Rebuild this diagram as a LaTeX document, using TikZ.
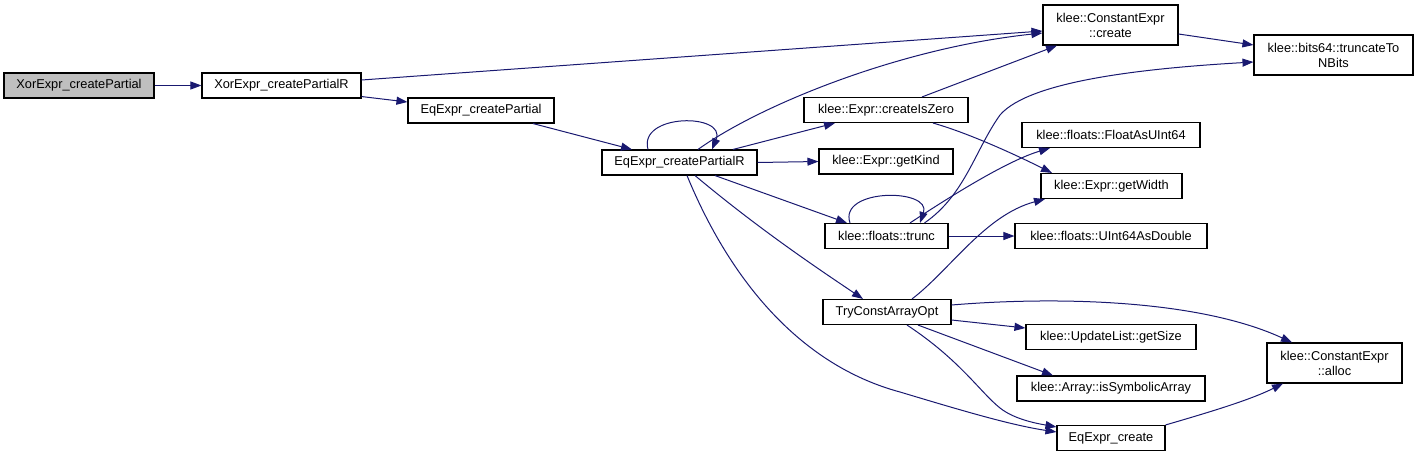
\documentclass[tikz,border=0pt]{standalone}
\usepackage{fontspec}
\setmainfont{Liberation Sans}
\usetikzlibrary{arrows.meta,calc}
\definecolor{edgec}{HTML}{191970}
\definecolor{grayfill}{HTML}{BFBFBF}
\tikzset{
  fn/.style={draw=black, line width=1.1pt, fill=white, inner sep=0pt, align=center,
    font=\fontsize{12.8}{15}\selectfont, minimum height=25pt},
  fn2/.style={fn, minimum height=40pt},
  call/.style={draw=edgec, line width=1pt, -{Triangle[length=11pt,width=8pt]}}
}
\begin{document}
\begin{tikzpicture}[x=1pt,y=-1pt]
\useasboundingbox (0,0) rectangle (1419,458);
% nodes
\node[fn, fill=grayfill, minimum width=150pt] (n1) at (79,85.5) {XorExpr\_createPartial};
\node[fn, minimum width=159pt] (n2) at (281.5,85.5) {XorExpr\_createPartialR};
\node[fn, minimum width=146pt] (n3) at (481,110.5) {EqExpr\_createPartial};
\node[fn, minimum width=155pt] (n4) at (679.5,162.5) {EqExpr\_createPartialR};
\node[fn2, minimum width=135pt] (n5) at (1110.5,25) {klee::ConstantExpr\\::create};
\node[fn2, minimum width=159pt] (n6) at (1333.5,55) {klee::bits64::truncateTo\\NBits};
\node[fn, minimum width=164pt] (n7) at (886,110) {klee::Expr::createIsZero};
\node[fn, minimum width=178pt] (n8) at (1111,135) {klee::floats::FloatAsUInt64};
\node[fn, minimum width=134pt] (n9) at (886,161.5) {klee::Expr::getKind};
\node[fn, minimum width=141pt] (n10) at (1111.5,186) {klee::Expr::getWidth};
\node[fn, minimum width=123pt] (n11) at (886.5,236) {klee::floats::trunc};
\node[fn, minimum width=192pt] (n12) at (1111,236) {klee::floats::UInt64AsDouble};
\node[fn, minimum width=128pt] (n13) at (887,312) {TryConstArrayOpt};
\node[fn, minimum width=170pt] (n14) at (1111,337) {klee::UpdateList::getSize};
\node[fn, minimum width=188pt] (n15) at (1111,388.5) {klee::Array::isSymbolicArray};
\node[fn, minimum width=108pt] (n16) at (1111,438) {EqExpr\_create};
\node[fn2, minimum width=135pt] (n17) at (1334.5,363) {klee::ConstantExpr\\::alloc};
% edges
\draw[call] (n1.east) -- (n2.west);
\draw[call] ($(n2.east)+(0,-5.5)$) -- ($(n5.west)+(0,6)$);
\draw[call] ($(n2.south east)+(0,-2)$) -- ($(n3.west)+(0,-8.5)$);
\draw[call] ($(n3.south)+(52,0)$) -- ($(n4.north)+(-47.5,0)$);
\draw[call] ($(n4.north)+(-31.5,0)$) .. controls (638,113) and (727,113) .. ($(n4.north)+(32.5,0)$);
\draw[call] ($(n4.north)+(18.5,0)$) .. controls (760,105) and (900,48) .. ($(n5.west)+(0,8)$);
\draw[call] ($(n4.north)+(53.5,0)$) -- ($(n7.south)+(-51,0)$);
\draw[call] (n4.east) -- (n9.west);
\draw[call] ($(n4.south)+(35.5,0)$) -- ($(n11.north)+(-39.5,0)$);
\draw[call] ($(n4.south)+(15.5,0)$) .. controls (760,230) and (820,270) .. ($(n13.north)+(-24,0)$);
\draw[call] ($(n4.south)+(7.5,0)$) .. controls (730,280) and (800,365) .. (900,392) .. controls (960,410) and (1010,425) .. ($(n16.west)+(0,-6)$);
\draw[call] ($(n5.east)+(0,9)$) -- ($(n6.west)+(0,-10)$);
\draw[call] ($(n7.north)+(36,0)$) -- ($(n5.south)+(-53.5,0)$);
\draw[call] ($(n7.south)+(47,0)$) .. controls (965,132) and (1010,152) .. ($(n10.north)+(-59.5,0)$);
\draw[call] ($(n11.north)+(-36.5,0)$) .. controls (838,188) and (932,188) .. ($(n11.north)+(33.5,0)$);
\draw[call] ($(n11.north)+(38,0)$) .. controls (965,195) and (975,150) .. (1000,115) .. controls (1030,80) and (1150,68) .. ($(n6.west)+(0,7)$);
\draw[call] ($(n11.north)+(23.5,0)$) .. controls (960,190) and (1010,160) .. ($(n8.south)+(-61,0)$);
\draw[call] (n11.east) -- (n12.west);
\draw[call] ($(n13.north)+(25,0)$) .. controls (950,270) and (985,215) .. ($(n10.south)+(-66.5,0)$);
\draw[call] ($(n13.east)+(0,-7)$) .. controls (1060,296) and (1200,300) .. ($(n17.north)+(-42.5,0)$);
\draw[call] ($(n13.east)+(0,8)$) -- ($(n14.west)+(0,-9)$);
\draw[call] ($(n13.south)+(31,0)$) -- ($(n15.north)+(-58,0)$);
\draw[call] ($(n13.south)+(20,0)$) .. controls (960,360) and (980,392) .. (1000,408) .. controls (1015,420) and (1040,424) .. ($(n16.west)+(0,-11)$);
\draw[call] (n16.north east) .. controls (1210,412) and (1250,400) .. ($(n17.south)+(-51.5,0)$);
\end{tikzpicture}
\end{document}
